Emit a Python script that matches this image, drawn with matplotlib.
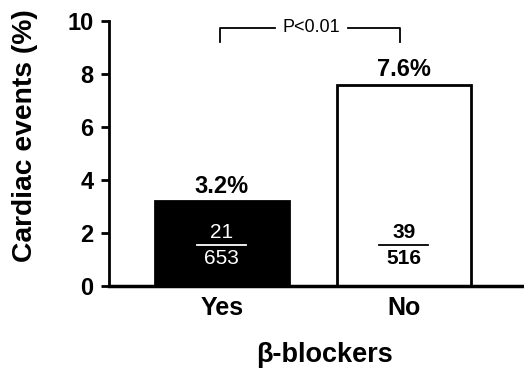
import matplotlib
matplotlib.use("Agg")
import matplotlib.pyplot as plt

categories = ["Yes", "No"]
values = [3.2, 7.6]
labels = ["3.2%", "7.6%"]
events = ["21", "39"]
totals = ["653", "516"]
yticks = [0, 2, 4, 6, 8, 10]

plt.rcParams['font.family'] = ['Liberation Sans', 'DejaVu Sans']

fig = plt.figure(figsize=(5.24, 3.68), dpi=100)
ax = fig.add_axes([0.208, 0.223, 0.788, 0.720])

x = [0, 1]
ax.bar(x, values, width=0.736, color=["black", "white"], edgecolor="black", linewidth=2, zorder=2)
ax.set_xlim(-0.62, 1.65)
ax.set_ylim(0, 10)
ax.set_yticks(yticks)
ax.set_yticklabels([str(t) for t in yticks], fontsize=17, fontweight='bold')
ax.set_xticks(x)
ax.set_xticklabels(categories, fontsize=18, fontweight='bold')
ax.tick_params(axis='x', length=0, pad=7)
ax.tick_params(axis='y', length=6, width=2, pad=5)
for s in ['top', 'right']:
    ax.spines[s].set_visible(False)
ax.spines['left'].set_linewidth(2)
ax.spines['bottom'].set_linewidth(2.5)
ax.spines['bottom'].set_zorder(3)
ax.set_ylabel("Cardiac events (%)", fontsize=20.3, fontweight='bold')
ax.yaxis.set_label_coords(-0.172, 0.566)

fig.text(325 / 524, 1 - 355 / 368, "β-blockers", ha='center', va='center',
         fontsize=19.5, fontweight='bold')

for xi, v, lab in zip(x, values, labels):
    ax.text(xi, v + 0.12, lab, ha='center', va='bottom', fontsize=17, fontweight='bold')

colors = ["white", "black"]
weights = ["normal", "bold"]
for xi, e, t, c, w in zip(x, events, totals, colors, weights):
    ax.text(xi, 2.0, e, ha='center', va='center', fontsize=15, color=c, fontweight=w, zorder=4)
    ax.text(xi, 1.05, t, ha='center', va='center', fontsize=15, color=c, fontweight=w, zorder=4)
    ax.plot([xi - 0.135, xi + 0.135], [1.55, 1.55], color=c, lw=1.3, zorder=4)

# significance bracket
bx0, bx1 = -0.01, 0.979
ytop, ybot = 9.74, 9.2
ax.plot([bx0, bx0, 0.292], [ybot, ytop, ytop], color='black', lw=1.3, clip_on=False)
ax.plot([0.693, bx1, bx1], [ytop, ytop, ybot], color='black', lw=1.3, clip_on=False)
ax.text(0.4925, ytop, "P<0.01", ha='center', va='center', fontsize=13)

fig.savefig("out.png", dpi=100)
